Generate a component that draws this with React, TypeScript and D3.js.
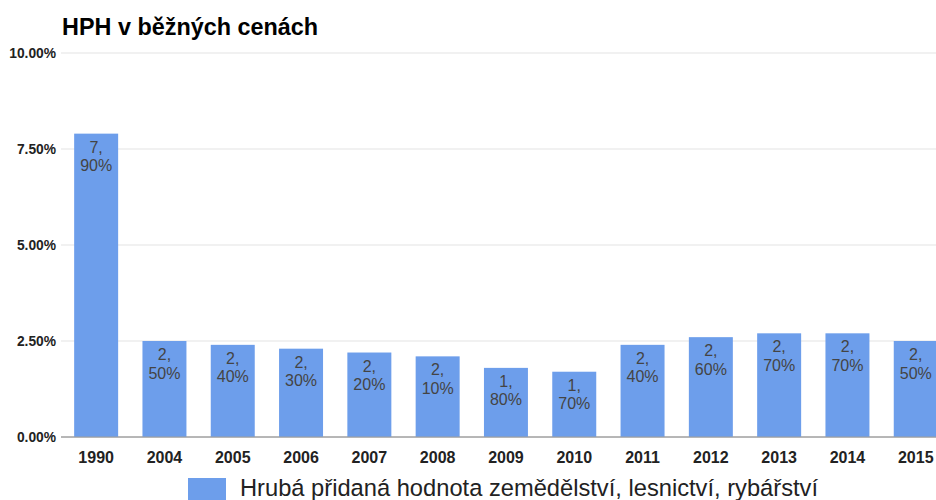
import React from "react";
import * as d3 from "d3";

const categories = ["1990", "2004", "2005", "2006", "2007", "2008", "2009", "2010", "2011", "2012", "2013", "2014", "2015"];
const values = [7.9, 2.5, 2.4, 2.3, 2.2, 2.1, 1.8, 1.7, 2.4, 2.6, 2.7, 2.7, 2.5];
const yTicks = [0, 2.5, 5, 7.5, 10];
const title = "HPH v běžných cenách";
const seriesName = "Hrubá přidaná hodnota zemědělství, lesnictví, rybářství";

const W = 936;
const H = 500;
const FONT = "'Liberation Sans', Arial, sans-serif";
const BAR = "#6d9eeb";

export default function App() {
  const x = d3
    .scaleBand<string>()
    .domain(categories)
    .range([62, 62 + 13 * 68.3])
    .paddingInner(0.356)
    .paddingOuter(0.178);
  const y = d3.scaleLinear().domain([0, 10]).range([437, 53]);
  const fmt = (v: number) => v.toFixed(2) + "%";
  const labelParts = (v: number) => {
    const s = v.toFixed(2).split(".");
    return [s[0] + ",", s[1] + "%"];
  };

  return (
    <svg
      width={W}
      height={H}
      style={{ position: "absolute", left: 0, top: 0, background: "#fff" }}
      fontFamily={FONT}
    >
      <rect x={0} y={0} width={W} height={H} fill="#fff" />
      <text x={62} y={35} fontSize={23.4} fontWeight="bold" fill="#000">
        {title}
      </text>
      {yTicks.map((t) => (
        <g key={t}>
          <line
            x1={61}
            x2={W}
            y1={y(t)}
            y2={y(t)}
            stroke={t === 0 ? "#9e9e9e" : "#e3e3e3"}
            strokeWidth={1}
          />
          <text
            x={56}
            y={y(t) + 5}
            textAnchor="end"
            fontSize={13.8}
            fontWeight="bold"
            fill="#222"
          >
            {fmt(t)}
          </text>
        </g>
      ))}
      {categories.map((c, i) => {
        const bx = x(c)!;
        const bw = x.bandwidth();
        const top = y(values[i]);
        const [l1, l2] = labelParts(values[i]);
        const cx = bx + bw / 2;
        return (
          <g key={c}>
            <rect x={bx} y={top} width={bw} height={y(0) - top} fill={BAR} />
            <text x={cx} y={top + 19} textAnchor="middle" fontSize={16} fill="#444">
              {l1}
            </text>
            <text x={cx} y={top + 37.5} textAnchor="middle" fontSize={16} fill="#444">
              {l2}
            </text>
            <text x={cx} y={463} textAnchor="middle" fontSize={16} fontWeight="bold" fill="#222">
              {c}
            </text>
          </g>
        );
      })}
      <line x1={61} x2={W} y1={y(0)} y2={y(0)} stroke="#9e9e9e" strokeWidth={1} />
      <rect x={188} y={478} width={38} height={24} fill={BAR} />
      <text x={240} y={496} fontSize={23.7} fill="#222">
        {seriesName}
      </text>
    </svg>
  );
}
